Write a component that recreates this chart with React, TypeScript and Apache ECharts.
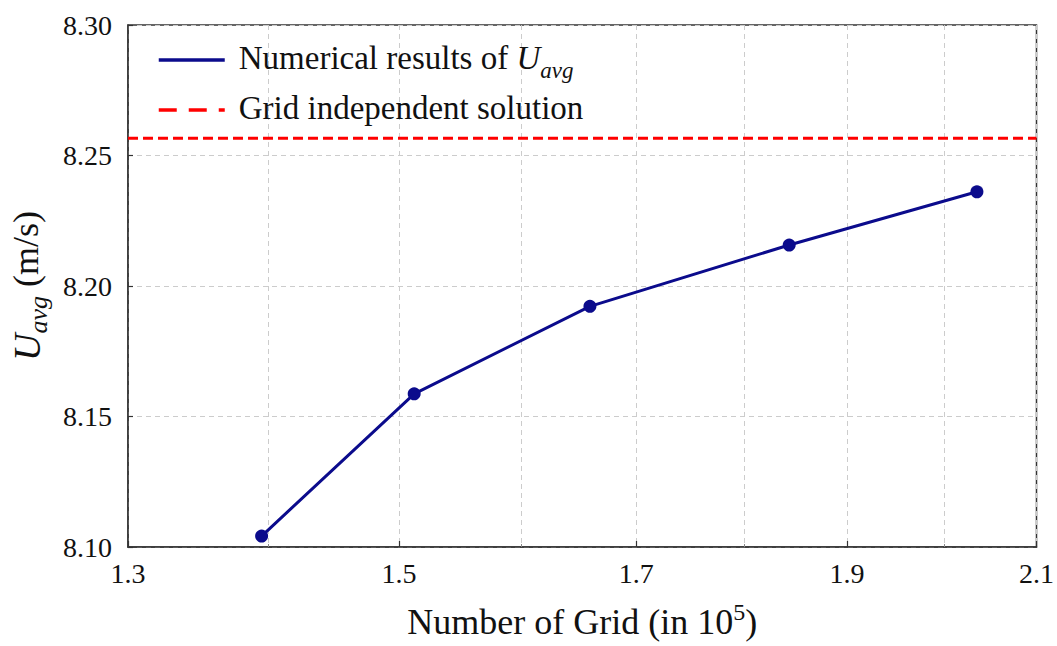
import React, { useEffect, useRef } from "react";
import * as echarts from "echarts";

// Grid count (in 10^5) and average velocity U_avg (m/s)
const gridCounts = [1.395, 1.512, 1.659, 1.843, 2.035];
const uAvgValues = [8.1042, 8.1587, 8.1922, 8.2157, 8.2361];
// Grid independent solution (horizontal reference)
const independentValue = 8.2566;
const xRange = [1.3, 2.1];

// Tick positions
const xGridTicks = [1.3, 1.4, 1.5, 1.6, 1.7, 1.8, 1.9, 2.0, 2.1];
const xLabelTicks = [1.3, 1.5, 1.7, 1.9, 2.1];
const yMin = 8.1;
const yMax = 8.3;
const yStep = 0.05;

const SERIF = "Liberation Serif";
const FRAME = "#333333";
const NAVY = "#0b0b8c";
const INK = "#111111";

export default function App() {
  const ref = useRef<HTMLDivElement>(null);

  useEffect(() => {
    if (!ref.current) return;
    const chart = echarts.init(ref.current, null, { renderer: "svg" });

    const legendRich = {
      t: { fontFamily: SERIF, fontSize: 33, lineHeight: 38, verticalAlign: "top", color: INK },
      i: { fontFamily: SERIF, fontStyle: "italic", fontSize: 33, lineHeight: 38, verticalAlign: "top", color: INK },
      s: { fontFamily: SERIF, fontStyle: "italic", fontSize: 23, lineHeight: 24, padding: [18, 0, 0, 0], verticalAlign: "top", color: INK },
    };

    chart.setOption({
      animation: false,
      backgroundColor: "#ffffff",
      textStyle: { fontFamily: SERIF },
      grid: {
        left: 126,
        right: 20,
        top: 25,
        bottom: 99,
        show: true,
        borderColor: FRAME,
        borderWidth: 1.5,
        backgroundColor: "transparent",
      },
      legend: {
        orient: "vertical",
        left: 157,
        top: 41,
        padding: 0,
        itemGap: 9,
        itemWidth: 66,
        itemHeight: 14,
        data: [
          {
            name: "Numerical results of U_avg",
            itemStyle: { opacity: 0 },
            lineStyle: { color: NAVY, width: 3.5, type: "solid" },
          },
          {
            name: "Grid independent solution",
            itemStyle: { opacity: 0 },
            lineStyle: { color: "#ff0000", width: 3.5, type: [18, 12] },
          },
        ],
        formatter: (name: string) =>
          name === "Numerical results of U_avg"
            ? "{t|Numerical results of }{i|U}{s|avg}"
            : "{t|" + name + "}",
        textStyle: {
          fontFamily: SERIF,
          padding: [0, 0, 0, 9],
          rich: legendRich,
        },
      },
      xAxis: [
        {
          type: "log",
          logBase: 10,
          min: xRange[0],
          max: xRange[1],
          name: "{t|Number of Grid (in 10}{p|5}{t|)}",
          nameLocation: "middle",
          nameGap: 53,
          nameTextStyle: {
            fontFamily: SERIF,
            rich: {
              t: { fontFamily: SERIF, fontSize: 36, lineHeight: 40, verticalAlign: "bottom", color: INK },
              p: { fontFamily: SERIF, fontSize: 24, lineHeight: 26, verticalAlign: "top", color: INK },
            },
          },
          axisLine: { show: true, lineStyle: { color: FRAME, width: 1.5 } },
          axisTick: {
            show: true,
            inside: true,
            length: 3,
            customValues: xGridTicks,
            lineStyle: { color: "#888", width: 1 },
          },
          axisLabel: { show: false },
          splitLine: {
            show: true,
            lineStyle: { color: "#cccccc", width: 1, type: [5, 4] },
          },
        },
        {
          type: "log",
          logBase: 10,
          min: xRange[0],
          max: xRange[1],
          position: "bottom",
          axisLine: { show: false },
          axisTick: {
            show: true,
            inside: true,
            length: 6,
            customValues: xLabelTicks,
            lineStyle: { color: FRAME, width: 1.2 },
          },
          axisLabel: {
            show: true,
            customValues: xLabelTicks,
            formatter: (v: number) => v.toFixed(1),
            fontFamily: SERIF,
            fontSize: 28,
            color: INK,
            margin: 12,
          },
          splitLine: { show: false },
        },
      ],
      yAxis: {
        type: "value",
        min: yMin,
        max: yMax,
        interval: yStep,
        name: "{i|U}{s|avg}{t| (m/s)}",
        nameLocation: "middle",
        nameRotate: 90,
        nameGap: 80,
        nameTextStyle: {
          fontFamily: SERIF,
          rich: {
            t: { fontFamily: SERIF, fontSize: 36, lineHeight: 40, verticalAlign: "top", color: INK },
            i: { fontFamily: SERIF, fontStyle: "italic", fontSize: 38, lineHeight: 40, verticalAlign: "top", color: INK },
            s: { fontFamily: SERIF, fontStyle: "italic", fontSize: 26, lineHeight: 26, padding: [17, 0, 0, 0], verticalAlign: "top", color: INK },
          },
        },
        axisLine: { show: true, lineStyle: { color: FRAME, width: 1.5 } },
        axisTick: { show: true, inside: true, length: 5, lineStyle: { color: FRAME, width: 1.2 } },
        axisLabel: {
          formatter: (v: number) => v.toFixed(2),
          fontFamily: SERIF,
          fontSize: 28,
          color: INK,
          margin: 16,
        },
        splitLine: {
          show: true,
          lineStyle: { color: "#cccccc", width: 1, type: [5, 4] },
        },
      },
      series: [
        {
          name: "Numerical results of U_avg",
          type: "line",
          xAxisIndex: 0,
          data: gridCounts.map((x, i) => [x, uAvgValues[i]]),
          symbol: "circle",
          symbolSize: 13,
          itemStyle: { color: NAVY },
          lineStyle: { color: NAVY, width: 3 },
          z: 5,
        },
        {
          name: "Grid independent solution",
          type: "line",
          xAxisIndex: 0,
          data: [
            [xRange[0], independentValue],
            [xRange[1], independentValue],
          ],
          symbol: "none",
          itemStyle: { color: "#ff0000" },
          lineStyle: { color: "#ff0000", width: 3, type: [10, 5] },
          z: 4,
        },
      ],
    });

    return () => chart.dispose();
  }, []);

  return (
    <div
      ref={ref}
      style={{ position: "fixed", left: 0, top: 0, width: 1057, height: 646, background: "#fff" }}
    />
  );
}
